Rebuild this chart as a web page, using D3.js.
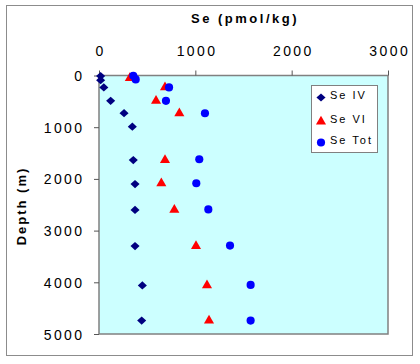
<!DOCTYPE html>
<html><head><meta charset="utf-8">
<script src="https://cdn.jsdelivr.net/npm/d3@7"></script>
<style>html,body{margin:0;padding:0;background:#fff;}svg{display:block;font-family:Arial,"Liberation Sans",sans-serif;}</style>
</head><body>
<svg id="c" width="420" height="364"></svg>
<script>
const seIVDepth = [10, 90, 230, 490, 730, 990, 1635, 2100, 2600, 3300, 4060, 4740];
const seIVValue = [17, 17, 50, 121, 260, 346, 356, 374, 374, 374, 450, 443];
const seVIDepth = [50, 230, 490, 730, 1635, 2085, 2600, 3300, 4060, 4740];
const seVIValue = [320, 685, 592, 834, 685, 647, 782, 1007, 1121, 1142];
const seTotDepth = [5, 75, 230, 490, 730, 1620, 2085, 2590, 3290, 4050, 4740];
const seTotValue = [356, 381, 727, 695, 1100, 1041, 1010, 1135, 1360, 1574, 1574];
const xTicks = [0, 1000, 2000, 3000];
const yTicks = [0, 1000, 2000, 3000, 4000, 5000];
const seriesNames = ["Se IV", "Se VI", "Se Tot"];

const svg = d3.select("#c");
const L = 99, R = 388, T = 75.5, B = 334;
const x = d3.scaleLinear().domain([0, 3000]).range([L, R]);
const y = d3.scaleLinear().domain([0, 5000]).range([T, B]);

// outer frame
svg.append("rect").attr("x", 6.5).attr("y", 5.5).attr("width", 406).attr("height", 350)
  .attr("fill", "#fff").attr("stroke", "#8c8c8c").attr("stroke-width", 1);

// plot area
svg.append("rect").attr("x", L).attr("y", T).attr("width", R - L).attr("height", B - T)
  .attr("fill", "#ccffff").attr("stroke", "#808080").attr("stroke-width", 1.5);

// axes
const gx = svg.append("g").attr("transform", `translate(0,${T})`)
  .call(d3.axisTop(x).tickValues(xTicks).tickSize(5).tickFormat(d3.format("d")));
gx.select(".domain").remove();
gx.selectAll(".tick line").attr("stroke", "#555");
gx.selectAll(".tick text").attr("y", -20).attr("dy", "0").attr("dx", "1.2")
  .attr("font-size", 14).attr("letter-spacing", 2.4).attr("fill", "#000").attr("font-family", "Arial, 'Liberation Sans', sans-serif");

const gy = svg.append("g").attr("transform", `translate(${L},0)`)
  .call(d3.axisLeft(y).tickValues(yTicks).tickSize(5).tickFormat(d3.format("d")));
gy.select(".domain").remove();
gy.selectAll(".tick line").attr("stroke", "#555");
gy.selectAll(".tick text").attr("x", -14.5).attr("dy", "0.36em")
  .attr("font-size", 14).attr("letter-spacing", 2.4).attr("fill", "#000").attr("font-family", "Arial, 'Liberation Sans', sans-serif");

// titles
svg.append("text").attr("x", 245).attr("y", 23).attr("text-anchor", "middle")
  .attr("font-size", 13).attr("font-weight", "bold").attr("letter-spacing", 2.5).text("Se (pmol/kg)");
svg.append("text").attr("transform", "translate(26,206) rotate(-90)").attr("text-anchor", "middle")
  .attr("font-size", 13).attr("font-weight", "bold").attr("letter-spacing", 2).text("Depth (m)");

// marks
const diamond = d3.symbol().type(d3.symbolSquare).size(34);
const tri = d3.symbol().type(d3.symbolTriangle).size(44);
const circ = d3.symbol().type(d3.symbolCircle).size(52);

const ivData = seIVDepth.map((d, i) => ({d, v: seIVValue[i]}));
const viData = seVIDepth.map((d, i) => ({d, v: seVIValue[i]}));
const totData = seTotDepth.map((d, i) => ({d, v: seTotValue[i]}));

svg.append("g").selectAll("path").data(ivData).join("path")
  .attr("d", diamond).attr("fill", "#000080")
  .attr("transform", p => `translate(${x(p.v)},${y(p.d)}) scale(1.1,1) rotate(45)`);
svg.append("g").selectAll("path").data(viData).join("path")
  .attr("d", tri).attr("fill", "#ff0000")
  .attr("transform", p => `translate(${x(p.v)},${y(p.d)})`);
svg.append("g").selectAll("path").data(totData).join("path")
  .attr("d", circ).attr("fill", "#0000ff")
  .attr("transform", p => `translate(${x(p.v)},${y(p.d)})`);

// legend
const lg = svg.append("g");
lg.append("rect").attr("x", 311.5).attr("y", 85.5).attr("width", 66).attr("height", 67)
  .attr("fill", "#fff").attr("stroke", "#808080").attr("stroke-width", 1);
const legY = [97.5, 121.5, 142.5];
const legSym = [diamond, tri, circ];
const legCol = ["#000080", "#ff0000", "#0000ff"];
seriesNames.forEach((n, i) => {
  lg.append("path").attr("d", legSym[i]).attr("fill", legCol[i])
    .attr("transform", `translate(321,${legY[i]})` + (i === 0 ? " scale(1.1,1) rotate(45)" : ""));
  lg.append("text").attr("x", 330).attr("y", legY[i] - 2).attr("dy", "0.35em")
    .attr("font-size", 11).attr("letter-spacing", 2).text(n);
});
</script>
</body></html>
